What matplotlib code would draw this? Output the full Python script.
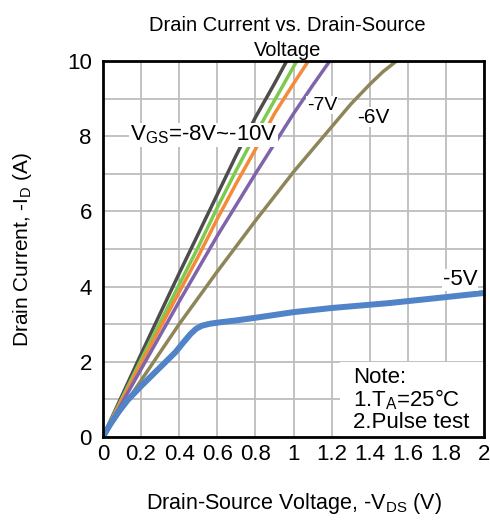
import matplotlib
matplotlib.use("Agg")
import matplotlib.pyplot as plt
from matplotlib.patches import Rectangle
import numpy as np

plt.rcParams['font.family'] = ['Liberation Sans', 'DejaVu Sans']

# Data
vds_10 = [0, 0.1, 0.2, 0.3, 0.4, 0.5, 0.6, 0.7, 0.8, 0.9, 0.964]
id_10 = [0, 1.1, 2.2, 3.28, 4.35, 5.4, 6.45, 7.5, 8.5, 9.4, 10.0]
vds_9 = [0, 0.1, 0.2, 0.3, 0.4, 0.5, 0.6, 0.7, 0.8, 0.9, 1.017]
id_9 = [0, 1.03, 2.05, 3.05, 4.05, 5.05, 6.1, 7.1, 8.05, 8.95, 10.0]
vds_8 = [0, 0.1, 0.2, 0.3, 0.4, 0.5, 0.6, 0.7, 0.8, 0.9, 1.0, 1.078]
id_8 = [0, 0.98, 1.95, 2.9, 3.85, 4.8, 5.8, 6.75, 7.65, 8.6, 9.4, 10.0]
vds_7 = [0, 0.2, 0.4, 0.6, 0.8, 1.0, 1.1, 1.19]
id_7 = [0, 1.8, 3.6, 5.35, 7.0, 8.6, 9.35, 10.0]
vds_6 = [0, 0.2, 0.4, 0.6, 0.8, 1.0, 1.2, 1.3, 1.4, 1.47, 1.54]
id_6 = [0, 1.5, 3.0, 4.4, 5.75, 7.05, 8.25, 8.85, 9.38, 9.72, 10.0]
vds_5 = [0, 0.04, 0.08, 0.13, 0.2, 0.28, 0.34, 0.38, 0.42, 0.46, 0.49, 0.52, 0.56, 0.6,
         0.7, 0.8, 1.0, 1.2, 1.5, 1.8, 2.0]
id_5 = [0, 0.35, 0.65, 0.98, 1.35, 1.75, 2.05, 2.25, 2.5, 2.74, 2.88, 2.96, 3.01, 3.04,
        3.1, 3.17, 3.32, 3.43, 3.56, 3.72, 3.83]

series = [
    (vds_10, id_10, '#4d4d4d', 2.5),
    (vds_9, id_9, '#7dcb4c', 2.5),
    (vds_8, id_8, '#f58b3a', 2.5),
    (vds_7, id_7, '#8064ab', 2.5),
    (vds_6, id_6, '#8e8559', 2.5),
    (vds_5, id_5, '#5083c8', 4.3),
]

xticks = [0, 0.2, 0.4, 0.6, 0.8, 1, 1.2, 1.4, 1.6, 1.8, 2]
xticklabels = ['0', '0.2', '0.4', '0.6', '0.8', '1', '1.2', '1.4', '1.6', '1.8', '2']
yticks = [0, 2, 4, 6, 8, 10]

fig = plt.figure(figsize=(4.9, 5.22), dpi=100)
ax = fig.add_axes([0.210, 0.163, 0.778, 0.720])

for x, y, c, lw in series:
    ax.plot(x, y, color=c, lw=lw, solid_capstyle='butt', solid_joinstyle='round', zorder=3)

ax.set_xlim(0, 2)
ax.set_ylim(0, 10)
ax.set_xticks(xticks)
ax.set_xticklabels(xticklabels)
ax.set_yticks(yticks)
ax.set_yticks(np.arange(0, 11, 1), minor=True)
ax.grid(True, which='both', color='#bdbdbd', lw=1.3, zorder=0)
ax.tick_params(which='both', length=0, labelsize=16)
ax.tick_params(axis='x', pad=5)
ax.tick_params(axis='y', pad=8)
for s in ax.spines.values():
    s.set_linewidth(2)
    s.set_color('black')
    s.set_zorder(5)

ax.set_title('Drain Current vs. Drain-Source\nVoltage', fontsize=14.5, pad=4, linespacing=1.4, x=0.485)
ax.set_xlabel('Drain-Source Voltage, -V$_{\\mathregular{DS}}$ (V)', fontsize=15.5, labelpad=19)
ax.set_ylabel('Drain Current, -I$_{\\mathregular{D}}$ (A)', fontsize=15, labelpad=24)

bb = dict(facecolor='white', edgecolor='none', pad=0.5)
ax.text(0.142, 8.03, 'V$_{\\mathregular{GS}}$=-8V~-10V', fontsize=16, ha='left', va='center', bbox=bb, zorder=4)
ax.text(1.071, 8.83, '-7V', fontsize=14, ha='left', va='center', bbox=bb, zorder=4)
ax.text(1.333, 8.51, '-6V', fontsize=15, ha='left', va='center', bbox=bb, zorder=4)
ax.text(1.785, 4.18, '-5V', fontsize=16, ha='left', va='center', bbox=bb, zorder=4)

ax.add_patch(Rectangle((1.244, 0), 2 - 1.244, 2.0, facecolor='white', edgecolor='none', zorder=4))
ax.text(1.312, 0.98, 'Note:\n1.T$_{\\mathregular{A}}$=25°C\n2.Pulse test', fontsize=16,
        ha='left', va='center', linespacing=1.0, zorder=4.5)

fig.savefig('out.png', dpi=100)
